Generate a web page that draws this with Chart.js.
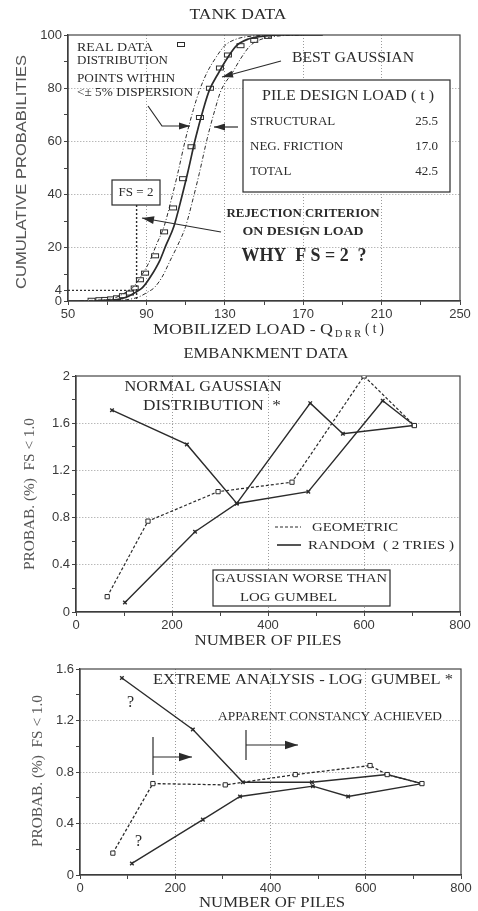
<!DOCTYPE html>
<html lang="en">
<head>
<meta charset="UTF-8">
<title>Pile load probability charts</title>
<script src="https://cdn.jsdelivr.net/npm/chart.js"></script>
<style>
  body { margin: 0; background: #fff; }
  .page { position: relative; width: 478px; height: 911px; }
  .page canvas { position: absolute; left: 0; }
</style>
</head>
<body>
<div class="page">
  <canvas id="tank" width="478" height="340" style="top:0"></canvas>
  <canvas id="emb" width="478" height="310" style="top:340px"></canvas>
  <canvas id="gumbel" width="478" height="261" style="top:650px"></canvas>
</div>
<script>
// ---- tank data (mobilized load in t, cumulative %) ----
const realX = [62, 66, 69, 72, 75, 78, 81.6, 84, 86.7, 89.3, 94.4, 99, 103.6, 108.7, 113, 117.3, 122.4, 127.5, 131.6, 138, 145, 152];
const realY = [0.3, 0.5, 0.6, 0.8, 1.2, 2, 3, 4.9, 8, 10.5, 17, 26, 35, 46, 58, 69, 80, 87.6, 92.5, 96, 98, 99.5];
const gaussX = [62, 70, 75, 80, 85, 88, 92, 97, 100, 104, 108, 111, 115, 119, 122, 127, 131, 136, 142, 150, 160, 180];
const gaussY = [0, 0.3, 0.5, 1.5, 3.5, 5, 9, 15.5, 21, 28, 39, 48, 61, 72, 79, 86, 91, 96, 98.5, 99.6, 100, 100];
const lowX = [56, 64, 70, 75, 80, 83, 87, 92, 95, 99, 103, 106, 110, 114, 117, 121, 125, 130, 136, 144, 152];
const lowY = [0, 0.3, 0.5, 1.5, 3.5, 5, 9, 15.5, 21, 28, 39, 48, 61, 72, 79, 86, 91, 96, 98.5, 99.6, 100];
const highX = [70, 80, 86, 91, 94, 98, 102, 106, 110, 114, 117, 121, 125, 128, 134, 138, 143, 149, 157, 170];
const highY = [0, 0.5, 1.5, 3.5, 5, 9, 15, 21, 28, 39, 48, 61, 72, 79, 86, 91, 96, 98.5, 99.6, 100];
const fsLoad = 85;   // 2 x 42.5 t
const fsProb = 4;

// ---- embankment, normal gaussian ----
const embGeoX = [65, 150, 296, 450, 600, 705];
const embGeoY = [0.13, 0.77, 1.02, 1.10, 2.0, 1.58];
const embRand1X = [75, 231, 335, 488, 556, 703];
const embRand1Y = [1.71, 1.42, 0.92, 1.77, 1.51, 1.58];
const embRand2X = [102, 248, 335, 484, 639, 705];
const embRand2Y = [0.08, 0.68, 0.92, 1.02, 1.79, 1.58];

// ---- embankment, log gumbel ----
const gumGeoX = [69, 153, 305, 452, 609, 645, 718];
const gumGeoY = [0.17, 0.71, 0.70, 0.78, 0.85, 0.78, 0.71];
const gumRand1X = [88, 237, 342, 487, 645, 718];
const gumRand1Y = [1.53, 1.13, 0.72, 0.72, 0.78, 0.71];
const gumRand2X = [109, 258, 336, 489, 563, 718];
const gumRand2Y = [0.09, 0.43, 0.61, 0.69, 0.61, 0.71];

// ---- axis ticks ----
const tankXTicks = [50, 70, 90, 110, 130, 150, 170, 190, 210, 230, 250];
const tankXLabels = [50, 90, 130, 170, 210, 250];
const tankXGrid = [90, 130, 170, 210];
const tankYTicks = [0, 4, 10, 20, 30, 40, 50, 60, 70, 80, 90, 100];
const tankYLabels = [0, 4, 20, 40, 60, 80, 100];
const tankYGrid = [20, 40, 60, 80];
const pileTicks = [0, 100, 200, 300, 400, 500, 600, 700, 800];
const pileLabels = [0, 200, 400, 600, 800];
const pileGrid = [200, 400, 600];
const embYTicks = [0, 0.2, 0.4, 0.6, 0.8, 1, 1.2, 1.4, 1.6, 1.8, 2];
const embYLabels = [0, 0.4, 0.8, 1.2, 1.6, 2];
const embYGrid = [0.4, 0.8, 1.2, 1.6];
const gumYTicks = [0, 0.2, 0.4, 0.6, 0.8, 1, 1.2, 1.4, 1.6];
const gumYLabels = [0, 0.4, 0.8, 1.2, 1.6];
const gumYGrid = [0.4, 0.8, 1.2];

const INK = '#2b2b2b';
const SERIF = '"Liberation Serif", "DejaVu Serif", serif';
const SANS = '"Liberation Sans", Arial, sans-serif';

const pts = (xs, ys) => xs.map((x, i) => ({ x: x, y: ys[i] }));

function txt(ctx, s, x, y, size, opt = {}) {
    ctx.save();
    ctx.font = (opt.bold ? 'bold ' : '') + size + 'px ' + (opt.sans ? SANS : SERIF);
    ctx.fillStyle = opt.color || INK;
    ctx.textAlign = opt.align || 'left';
    ctx.textBaseline = 'middle';
    ctx.translate(x, y);
    if (opt.rot) ctx.rotate(opt.rot);
    if (opt.width) ctx.scale(opt.width / ctx.measureText(s).width, 1);
    ctx.fillText(s, 0, 0);
    ctx.restore();
}

function line(ctx, p, dash, w) {
    ctx.save();
    ctx.strokeStyle = INK;
    ctx.lineWidth = w || 1.2;
    ctx.setLineDash(dash || []);
    ctx.beginPath();
    ctx.moveTo(p[0][0], p[0][1]);
    for (let i = 1; i < p.length; i++) ctx.lineTo(p[i][0], p[i][1]);
    ctx.stroke();
    ctx.restore();
}

function arrow(ctx, p, head) {
    head = head || 10;
    line(ctx, p);
    const [x1, y1] = p[p.length - 2];
    const [x2, y2] = p[p.length - 1];
    const a = Math.atan2(y2 - y1, x2 - x1);
    const bx = x2 - head * Math.cos(a), by = y2 - head * Math.sin(a);
    const s = head * 0.32;
    ctx.save();
    ctx.fillStyle = INK;
    ctx.beginPath();
    ctx.moveTo(x2, y2);
    ctx.lineTo(bx + s * Math.sin(a), by - s * Math.cos(a));
    ctx.lineTo(bx - s * Math.sin(a), by + s * Math.cos(a));
    ctx.closePath();
    ctx.fill();
    ctx.restore();
}

function box(ctx, x, y, w, h) {
    ctx.save();
    ctx.fillStyle = '#fff';
    ctx.fillRect(x, y, w, h);
    ctx.strokeStyle = INK;
    ctx.lineWidth = 1.2;
    ctx.strokeRect(x, y, w, h);
    ctx.restore();
}

// hollow oblong marker used for the real data
const oblong = document.createElement('canvas');
oblong.width = 10; oblong.height = 7;
(function () {
    const g = oblong.getContext('2d');
    g.fillStyle = '#fff';
    g.fillRect(1, 1, 8, 5);
    g.strokeStyle = INK;
    g.lineWidth = 1;
    g.strokeRect(1.5, 1.5, 7, 4);
})();

function linAxis(min, max, all, labels, grid, fit) {
    return {
        type: 'linear', min: min, max: max,
        afterBuildTicks: s => { s.ticks = all.map(v => ({ value: v })); },
        afterFit: fit,
        ticks: {
            autoSkip: false, maxRotation: 0, padding: 2, color: '#3a3a3a',
            font: { family: SANS, size: 13 },
            callback: v => labels.includes(v) ? String(v) : ''
        },
        grid: {
            color: c => (c.tick && grid.includes(c.tick.value)) ? '#9a9a9a' : 'rgba(0,0,0,0)',
            tickColor: '#444', tickLength: 4, lineWidth: 1
        },
        border: { color: '#333', width: 1.3, dash: [1, 2] }
    };
}

const frame = {
    id: 'frame',
    beforeDatasetsDraw(chart) {
        const a = chart.chartArea, ctx = chart.ctx;
        ctx.save();
        ctx.strokeStyle = '#444';
        ctx.lineWidth = 1.2;
        ctx.strokeRect(a.left, a.top, a.right - a.left, a.bottom - a.top);
        ctx.restore();
    }
};

function baseOptions(pad, xAxis, yAxis) {
    return {
        responsive: false,
        animation: false,
        layout: { padding: pad },
        plugins: { legend: { display: false }, tooltip: { enabled: false } },
        scales: { x: xAxis, y: yAxis }
    };
}

// ================= TANK DATA =================
const tankNotes = {
    id: 'tankNotes',
    afterDraw(chart) {
        const ctx = chart.ctx, x = chart.scales.x, y = chart.scales.y;
        txt(ctx, 'TANK DATA', 238, 15, 14, { align: 'center', width: 97 });
        txt(ctx, 'CUMULATIVE PROBABILITIES', 22, 172, 15, { sans: true, align: 'center', rot: -Math.PI / 2, width: 234, color: '#555' });

        // x title with subscript
        txt(ctx, 'MOBILIZED LOAD - Q', 153, 330, 14, { width: 180 });
        txt(ctx, 'D R R', 335, 334, 10, { width: 26 });
        txt(ctx, '( t )', 365, 329, 14, { width: 19 });

        // FS = 2 lines
        const px = x.getPixelForValue(fsLoad), py = y.getPixelForValue(fsProb);
        line(ctx, [[px, 205], [px, y.bottom]], [2, 2], 1.4);
        line(ctx, [[x.left, py], [px, py]], [2, 2], 1.2);
        box(ctx, 112, 180, 48, 25);
        txt(ctx, 'FS = 2', 136, 193, 13, { align: 'center' });

        // legend notes
        txt(ctx, 'REAL DATA', 77, 48, 12, { width: 76 });
        txt(ctx, 'DISTRIBUTION', 77, 61, 12, { width: 91 });
        ctx.drawImage(oblong, 176, 41);
        txt(ctx, 'POINTS WITHIN', 77, 79, 12, { width: 98 });
        txt(ctx, '<\u00B1 5% DISPERSION', 77, 93, 12, { width: 116 });
        arrow(ctx, [[148, 106], [162, 126], [190, 126]], 11);
        arrow(ctx, [[238, 127], [214, 127]], 11);

        txt(ctx, 'BEST GAUSSIAN', 292, 58, 14.5, { width: 122 });
        arrow(ctx, [[281, 61], [222, 77]], 11);

        box(ctx, 243, 80, 207, 112);
        txt(ctx, 'PILE DESIGN LOAD ( t )', 348, 96, 15.5, { align: 'center', width: 172 });
        txt(ctx, 'STRUCTURAL', 250, 122, 13);
        txt(ctx, '25.5', 438, 122, 13, { align: 'right' });
        txt(ctx, 'NEG. FRICTION', 250, 147, 13);
        txt(ctx, '17.0', 438, 147, 13, { align: 'right' });
        txt(ctx, 'TOTAL', 250, 172, 13);
        txt(ctx, '42.5', 438, 172, 13, { align: 'right' });

        arrow(ctx, [[221, 232], [142, 218]], 12);
        txt(ctx, 'REJECTION CRITERION', 303, 214, 13, { bold: true, align: 'center', width: 153 });
        txt(ctx, 'ON DESIGN LOAD', 303, 232, 13, { bold: true, align: 'center', width: 121 });
        txt(ctx, 'WHY  F S = 2  ?', 304, 256, 18, { bold: true, align: 'center', width: 125 });
    }
};

new Chart(document.getElementById('tank'), {
    type: 'line',
    data: {
        datasets: [
            { data: pts(lowX, lowY), borderColor: INK, borderWidth: 1, borderDash: [4, 2, 1, 2], pointRadius: 0, cubicInterpolationMode: 'monotone' },
            { data: pts(highX, highY), borderColor: INK, borderWidth: 1, borderDash: [4, 2, 1, 2], pointRadius: 0, cubicInterpolationMode: 'monotone' },
            { data: pts(gaussX, gaussY), borderColor: INK, borderWidth: 1.7, pointRadius: 0, cubicInterpolationMode: 'monotone' },
            { data: pts(realX, realY), showLine: false, pointStyle: oblong, pointRadius: 4 }
        ]
    },
    options: baseOptions({ top: 35, right: 18, left: 0, bottom: 0 },
        linAxis(50, 250, tankXTicks, tankXLabels, tankXGrid, s => { s.height = 39; }),
        linAxis(0, 100, tankYTicks, tankYLabels, tankYGrid, s => { s.width = 68; })),
    plugins: [frame, tankNotes]
});

// ================= EMBANKMENT - GAUSSIAN =================
const embNotes = {
    id: 'embNotes',
    afterDraw(chart) {
        const ctx = chart.ctx;
        txt(ctx, 'EMBANKMENT DATA', 266, 14, 14.5, { align: 'center', width: 165 });
        txt(ctx, 'NORMAL GAUSSIAN', 203, 47, 15, { align: 'center', width: 157 });
        txt(ctx, 'DISTRIBUTION  *', 143, 66, 15, { width: 138 });
        line(ctx, [[275, 187], [301, 187]], [3, 2], 1.2);
        txt(ctx, 'GEOMETRIC', 312, 187, 13.5, { width: 86 });
        line(ctx, [[277, 205], [301, 205]], [], 1.6);
        txt(ctx, 'RANDOM  ( 2 TRIES )', 308, 205, 13.5, { width: 146 });
        box(ctx, 213, 230, 177, 36);
        txt(ctx, 'GAUSSIAN WORSE THAN', 301, 238, 13.5, { align: 'center', width: 172 });
        txt(ctx, 'LOG GUMBEL', 240, 257, 13.5, { width: 97 });
        txt(ctx, 'NUMBER OF PILES', 268, 301, 15, { align: 'center', width: 147 });
        txt(ctx, 'PROBAB. (%)  FS < 1.0', 30, 154, 15, { align: 'center', rot: -Math.PI / 2, width: 152, color: '#555' });
    }
};

new Chart(document.getElementById('emb'), {
    type: 'line',
    data: {
        datasets: [
            { data: pts(embGeoX, embGeoY), borderColor: INK, borderWidth: 1.2, borderDash: [3, 2], pointStyle: 'rect', pointRadius: 3, pointBorderWidth: 1, pointBackgroundColor: '#fff', pointBorderColor: INK },
            { data: pts(embRand1X, embRand1Y), borderColor: INK, borderWidth: 1.4, pointStyle: 'crossRot', pointRadius: 2.5, pointBorderColor: INK },
            { data: pts(embRand2X, embRand2Y), borderColor: INK, borderWidth: 1.4, pointStyle: 'crossRot', pointRadius: 2.5, pointBorderColor: INK }
        ]
    },
    options: baseOptions({ top: 36, right: 18, left: 0, bottom: 0 },
        linAxis(0, 800, pileTicks, pileLabels, pileGrid, s => { s.height = 38; }),
        linAxis(0, 2, embYTicks, embYLabels, embYGrid, s => { s.width = 76; })),
    plugins: [frame, embNotes]
});

// ================= EMBANKMENT - LOG GUMBEL =================
const gumNotes = {
    id: 'gumNotes',
    afterDraw(chart) {
        const ctx = chart.ctx;
        txt(ctx, 'EXTREME ANALYSIS - LOG  GUMBEL *', 153, 30, 15, { width: 300 });
        txt(ctx, '?', 127, 53, 16);
        txt(ctx, 'APPARENT CONSTANCY ACHIEVED', 330, 67, 12, { align: 'center', width: 224 });
        line(ctx, [[153, 87], [153, 125]]);
        arrow(ctx, [[153, 107], [192, 107]], 13);
        line(ctx, [[246, 80], [246, 110]]);
        arrow(ctx, [[246, 95], [298, 95]], 13);
        txt(ctx, '?', 135, 192, 16);
        txt(ctx, 'NUMBER OF PILES', 272, 253, 15, { align: 'center', width: 146 });
        txt(ctx, 'PROBAB. (%)  FS < 1.0', 38, 121, 15, { align: 'center', rot: -Math.PI / 2, width: 152, color: '#555' });
    }
};

new Chart(document.getElementById('gumbel'), {
    type: 'line',
    data: {
        datasets: [
            { data: pts(gumGeoX, gumGeoY), borderColor: INK, borderWidth: 1.3, borderDash: [3, 2], pointStyle: 'rect', pointRadius: 3, pointBorderWidth: 1, pointBackgroundColor: '#fff', pointBorderColor: INK },
            { data: pts(gumRand1X, gumRand1Y), borderColor: INK, borderWidth: 1.4, pointStyle: 'crossRot', pointRadius: 2.5, pointBorderColor: INK },
            { data: pts(gumRand2X, gumRand2Y), borderColor: INK, borderWidth: 1.4, pointStyle: 'crossRot', pointRadius: 2.5, pointBorderColor: INK }
        ]
    },
    options: baseOptions({ top: 19, right: 17, left: 0, bottom: 0 },
        linAxis(0, 800, pileTicks, pileLabels, pileGrid, s => { s.height = 36; }),
        linAxis(0, 1.6, gumYTicks, gumYLabels, gumYGrid, s => { s.width = 80; })),
    plugins: [frame, gumNotes]
});
</script>
</body>
</html>
